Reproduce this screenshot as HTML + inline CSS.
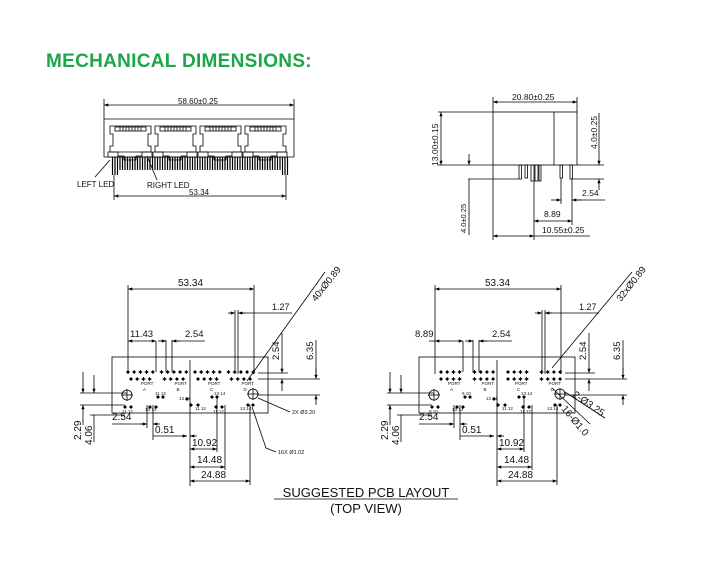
<!DOCTYPE html>
<html><head><meta charset="utf-8"><style>
html,body{margin:0;padding:0;background:#fff;width:709px;height:567px;overflow:hidden}
svg{position:absolute;left:0;top:0}
text{font-family:"Liberation Sans",sans-serif;fill:#111}
</style></head><body>
<svg id="s" width="709" height="567" viewBox="0 0 709 567" xmlns="http://www.w3.org/2000/svg">
<defs>
<marker id="a" viewBox="0 0 8 6" refX="8" refY="3" markerWidth="6" markerHeight="4" orient="auto-start-reverse"><path d="M0,0L8,3L0,6z" fill="#000"/></marker>
</defs>
<text x="46" y="67" font-size="19" font-weight="bold" style="fill:#1ca64a" letter-spacing="0.3">MECHANICAL DIMENSIONS:</text>

<g stroke="#000" stroke-width="0.8" fill="none">
<line x1="104" y1="99" x2="104" y2="157"/><line x1="294" y1="99" x2="294" y2="157"/>
<line x1="104" y1="105" x2="294" y2="105" marker-start="url(#a)" marker-end="url(#a)"/>
<line x1="104" y1="119" x2="294" y2="119"/>
<line x1="104" y1="157" x2="294" y2="157"/>
<line x1="114" y1="175" x2="114" y2="200"/><line x1="286" y1="175" x2="286" y2="200"/>
<line x1="114" y1="196" x2="286" y2="196" marker-start="url(#a)" marker-end="url(#a)"/>
<line x1="110" y1="160" x2="95" y2="177"/><line x1="147" y1="156" x2="157" y2="180"/>
</g>
<g id="ports" stroke="#000" stroke-width="0.8" fill="none"></g>
<g id="fpins" stroke="#000" stroke-width="1.2"></g>
<g font-size="8"><text x="178" y="104">58.60±0.25</text><text x="77" y="187">LEFT LED</text><text x="147" y="188">RIGHT LED</text><text x="189" y="195">53.34</text></g>

<g stroke="#000" stroke-width="0.8" fill="none">
<rect x="493" y="112" width="84" height="53"/>
<line x1="554" y1="112" x2="554" y2="165"/>
<line x1="493" y1="97" x2="493" y2="112"/><line x1="577" y1="97" x2="577" y2="112"/>
<line x1="493" y1="102" x2="577" y2="102" marker-start="url(#a)" marker-end="url(#a)"/>
<line x1="438" y1="112" x2="493" y2="112"/><line x1="438" y1="165" x2="493" y2="165"/>
<line x1="441" y1="112" x2="441" y2="165" marker-start="url(#a)" marker-end="url(#a)"/>
<line x1="577" y1="165" x2="604" y2="165"/><line x1="572" y1="179" x2="604" y2="179"/>
<line x1="599" y1="113" x2="599" y2="165" marker-end="url(#a)"/><line x1="599" y1="190" x2="599" y2="179" marker-end="url(#a)"/>
<line x1="468" y1="179" x2="519" y2="179"/>
<line x1="469" y1="154" x2="469" y2="165" marker-end="url(#a)"/><line x1="469" y1="235" x2="469" y2="179" />
<rect x="519" y="165" width="2.5" height="14"/><rect x="525" y="165" width="2.5" height="13"/>
<rect x="531" y="165" width="3" height="16"/><rect x="535" y="165" width="3" height="16"/><rect x="539" y="165" width="2" height="16"/>
<rect x="560" y="165" width="2.5" height="13"/><rect x="570" y="165" width="2.5" height="14"/>
<line x1="493" y1="165" x2="493" y2="240"/><line x1="534" y1="181" x2="534" y2="240"/>
<line x1="561" y1="178" x2="561" y2="204"/><line x1="572" y1="179" x2="572" y2="225"/>
<line x1="493" y1="236" x2="534" y2="236" marker-start="url(#a)" marker-end="url(#a)"/><line x1="534" y1="236" x2="590" y2="236"/>
<line x1="534" y1="221" x2="572" y2="221" marker-start="url(#a)" marker-end="url(#a)"/>
<line x1="551" y1="200" x2="561" y2="200" marker-end="url(#a)"/><line x1="582" y1="200" x2="572" y2="200" marker-end="url(#a)"/><line x1="572" y1="200" x2="605" y2="200"/>
</g>
<g font-size="8.5"><text x="512" y="100">20.80±0.25</text><text x="582" y="196">2.54</text><text x="544" y="217">8.89</text><text x="542" y="233">10.55±0.25</text>
<text transform="translate(438,166) rotate(-90)">13.00±0.15</text>
<text transform="translate(597,149) rotate(-90)">4.0±0.25</text>
<text transform="translate(466,233) rotate(-90)" font-size="7.5">4.0±0.25</text></g>

<g id="pcbL"></g><g id="pcbR"></g>

<g text-anchor="middle"><text x="366" y="497" font-size="13">SUGGESTED PCB LAYOUT</text><text x="366" y="513" font-size="13">(TOP VIEW)</text></g>
<line x1="274" y1="499" x2="458" y2="499" stroke="#000" stroke-width="0.8"/>
</svg>
<script>
var NS="http://www.w3.org/2000/svg";
function el(p,t,a,txt){var e=document.createElementNS(NS,t);for(var k in a)e.setAttribute(k,a[k]);if(txt!=null)e.textContent=txt;p.appendChild(e);return e;}
var ports=document.getElementById('ports');
for(var i=0;i<4;i++){var x=110+i*45;
el(ports,'path',{d:'M'+x+' 126h41v8h-3v12h3v6h-41v-6h3v-12h-3z'});
el(ports,'rect',{x:x+5,y:127,width:31,height:4});
for(var j=0;j<8;j++)el(ports,'line',{x1:x+10+j*3,y1:127,x2:x+10+j*3,y2:131});
el(ports,'path',{d:'M'+(x-2)+' 152h10v4h6v4h12v-4h6v-4h10v5h-44z'});}
var fp=document.getElementById('fpins');
for(var x=112.5;x<=288;x+=2.5){el(fp,'line',{x1:x,y1:157,x2:x,y2:(x<120||x>281)?175:170});}
function ln(g,x1,y1,x2,y2,m){var a={x1:x1,y1:y1,x2:x2,y2:y2,stroke:'#000','stroke-width':0.8};if(m&1)a['marker-start']='url(#a)';if(m&2)a['marker-end']='url(#a)';el(g,'line',a);}
function tx(g,x,y,s,fs,rot){var a={x:x,y:y,'font-size':fs||10};if(rot){a.transform='rotate('+rot+' '+x+' '+y+')';}el(g,'text',a,s);}
function pin(g,x,y){el(g,'circle',{cx:x,cy:y,r:1.3,fill:'#000'});ln(g,x-2,y,x+2,y);ln(g,x,y-2,x,y+2);}
function pcb(g,dx,right){
var G=el(g,'g',{transform:'translate('+dx+',0)'});
el(G,'rect',{x:112,y:357,width:156,height:56,fill:'none',stroke:'#000','stroke-width':0.8});
ln(G,128,285,128,374);ln(G,254,285,254,374);ln(G,128,289,254,289,3);tx(G,178,286,'53.34');
ln(G,235,310,235,374);ln(G,238,310,238,374);ln(G,228,313,235,313,2);ln(G,245,313,238,313,2);ln(G,238,313,292,313);tx(G,272,310,'1.27',9);
if(!right){ln(G,128,341,156,341,3);ln(G,156,341,156,372);tx(G,130,337,'11.43',9.5);}
else{ln(G,122,341,128,341);ln(G,128,341,156,341,3);ln(G,156,341,156,372);tx(G,108,337,'8.89',9.5);}
ln(G,166,340,166,372);ln(G,172,340,172,372);ln(G,158,341,166,341,2);ln(G,180,341,172,341,2);ln(G,172,341,205,341);tx(G,185,337,'2.54',9.5);
ln(G,258,373,288,373);ln(G,258,379,320,379);ln(G,258,395,320,395);
ln(G,282,333,282,373,2);ln(G,282,391,282,379,2);tx(G,279,360,'2.54',9.5,-90);
ln(G,316,340,316,373);ln(G,316,368,316,379,2);ln(G,316,405,316,395,2);tx(G,313,360,'6.35',9.5,-90);
var n=right?4:5;
for(var p=0;p<4;p++){var bx=128+p*33.5;
for(var k=0;k<n;k++){pin(G,bx+k*6.2+(right?6:0),372);}
for(var k=0;k<4;k++){pin(G,bx+3+k*6.2+(right?3:0),379);}
tx(G,bx+13,385,'PORT',4.5);tx(G,bx+15,391,'ABCD'[p],4.5);}
el(G,'circle',{cx:127,cy:395,r:5,fill:'none',stroke:'#000','stroke-width':0.8});ln(G,121,395,133,395);ln(G,127,389,127,401);
el(G,'circle',{cx:253,cy:394,r:5,fill:'none',stroke:'#000','stroke-width':0.8});ln(G,247,394,259,394);ln(G,253,388,253,400);
var sp=[[125,407],[131,407],[158,397],[163,397],[150,407],[156,407],[187,399],[191,405],[198,405],[212,397],[217,397],[216,407],[222,407],[248,405],[253,405]];
sp.forEach(function(q){pin(G,q[0],q[1]);});
tx(G,122,413,right?'9 10':'11 12',4.5);tx(G,155,395,right?'9 10':'11 12',4.5);tx(G,145,411,'13 14',4.5);tx(G,179,400,'13 14',4.5);tx(G,195,410,'11 12',4.5);tx(G,214,395,'13 14',4.5);tx(G,213,413,'11 12',4.5);tx(G,240,410,'13 14',4.5);
ln(G,83,372,83,393,2);ln(G,83,425,83,405,2);ln(G,94,375,94,393,2);ln(G,94,442,94,415);
ln(G,80,393,127,393);ln(G,80,405,125,405);ln(G,90,415,125,415);
tx(G,81,440,'2.29',10,-90);tx(G,92,445,'4.06',10,-90);
ln(G,147,405,147,428);ln(G,153,405,153,440);ln(G,112,424,147,424);ln(G,140,424,147,424,2);ln(G,160,424,153,424,2);tx(G,112,420,'2.54',10);
ln(G,190,360,190,486);ln(G,153,436,187,436);ln(G,182,436,187,436,2);ln(G,197,436,190,436,2);tx(G,155,433,'0.51',10);
ln(G,217,397,217,452);ln(G,225,405,225,470);ln(G,250,405,250,485);
ln(G,190,449,217,449,3);tx(G,192,446,'10.92',10);
ln(G,190,467,225,467,3);tx(G,197,463,'14.48',10);
ln(G,190,481,250,481,3);tx(G,201,478,'24.88',10);
if(!right){
ln(G,247,381,325,272);tx(G,316,302,'40xØ0.89',9.5,-52);
ln(G,258,398,290,412);tx(G,292,414,'2X Ø3.20',5.5);
ln(G,252,407,266,448);ln(G,266,448,276,452);tx(G,278,454,'16X Ø1.02',5.5);
}else{
ln(G,245,368,325,272);tx(G,314,302,'32xØ0.89',9.5,-52);
ln(G,258,392,298,418);tx(G,265,396,'2-Ø3.25',10,35);
ln(G,245,388,283,424);tx(G,254,409,'16-Ø1.0',10,50);
}}
pcb(document.getElementById('pcbL'),0,false);
pcb(document.getElementById('pcbR'),307,true);
</script>
</body></html>
